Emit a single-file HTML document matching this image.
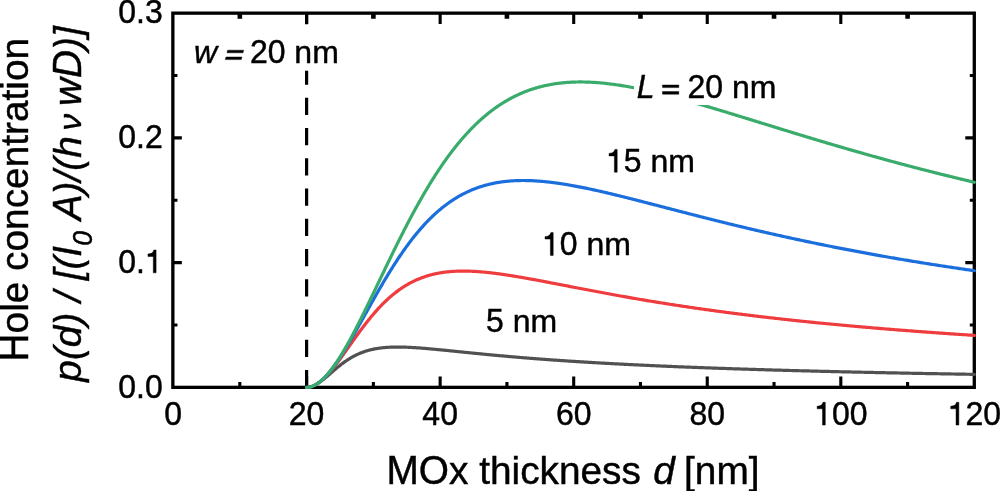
<!DOCTYPE html>
<html><head><meta charset="utf-8"><style>
html,body{margin:0;padding:0;background:#fff;}
body{width:1000px;height:491px;overflow:hidden;}
svg{display:block;will-change:transform;font-family:"Liberation Sans",sans-serif;font-kerning:none;}
</style></head><body>
<svg width="1000" height="491" viewBox="0 0 1000 491">
<rect width="1000" height="491" fill="#fff"/>
<g fill="none" stroke="#000" stroke-width="3.3">
<rect x="172.85" y="13.15" width="801.45" height="374.20"/>
<path d="M239.83,387.35V382.05 M306.60,387.35V376.45 M306.60,13.15V24.05 M373.38,387.35V382.05 M440.15,387.35V376.45 M440.15,13.15V24.05 M506.93,387.35V382.05 M573.70,387.35V376.45 M573.70,13.15V24.05 M640.48,387.35V382.05 M707.25,387.35V376.45 M707.25,13.15V24.05 M774.03,387.35V382.05 M840.80,387.35V376.45 M840.80,13.15V24.05 M907.58,387.35V382.05 M172.85,324.98H177.45 M974.30,324.98H969.80 M172.85,262.62H181.85 M974.30,262.62H965.30 M172.85,200.25H177.45 M974.30,200.25H969.80 M172.85,137.88H181.85 M974.30,137.88H965.30 M172.85,75.52H177.45 M974.30,75.52H969.80" stroke-width="3.1"/>
<path d="M239.83,13.15V18.85 M373.38,13.15V18.85 M506.93,13.15V18.85 M640.48,13.15V18.85 M774.03,13.15V18.85 M907.58,13.15V18.85" stroke-width="4.6"/>
<path d="M306.60,387.35V13.15" stroke-width="3.2" stroke-dasharray="17.25 13.0"/>
</g>
<g fill="none" stroke-width="3.2" stroke-linejoin="round" stroke-linecap="round">
<path d="M306.60,387.35 L307.27,387.33 L307.94,387.29 L308.60,387.21 L309.27,387.11 L309.94,386.97 L310.61,386.81 L311.27,386.62 L311.94,386.40 L312.61,386.16 L313.28,385.89 L313.95,385.60 L314.61,385.28 L315.28,384.94 L315.95,384.58 L316.62,384.20 L317.28,383.81 L317.95,383.39 L318.62,382.95 L319.29,382.50 L319.96,382.04 L320.62,381.55 L321.29,381.06 L321.96,380.55 L322.63,380.04 L323.29,379.51 L323.96,378.97 L324.63,378.42 L325.30,377.87 L325.96,377.31 L326.63,376.74 L327.30,376.17 L327.97,375.60 L328.64,375.02 L329.30,374.44 L329.97,373.86 L330.64,373.28 L331.31,372.70 L331.97,372.12 L332.64,371.54 L333.31,370.96 L333.98,370.38 L334.65,369.81 L335.31,369.24 L335.98,368.68 L336.65,368.12 L337.32,367.56 L337.98,367.01 L338.65,366.47 L339.32,365.93 L339.99,365.40 L340.66,364.88 L341.32,364.36 L341.99,363.85 L342.66,363.35 L343.33,362.85 L343.99,362.37 L344.66,361.89 L345.33,361.42 L346.00,360.95 L346.66,360.50 L347.33,360.06 L348.00,359.62 L348.67,359.19 L349.34,358.78 L350.00,358.37 L350.67,357.97 L351.34,357.57 L352.01,357.19 L352.67,356.82 L353.34,356.45 L354.01,356.09 L354.68,355.75 L355.35,355.41 L356.01,355.08 L356.68,354.75 L357.35,354.44 L358.02,354.14 L358.68,353.84 L359.35,353.55 L360.02,353.27 L360.69,353.00 L361.36,352.73 L362.02,352.48 L362.69,352.23 L363.36,351.99 L364.03,351.75 L364.69,351.52 L365.36,351.30 L366.03,351.09 L366.70,350.89 L367.37,350.69 L368.03,350.50 L368.70,350.31 L369.37,350.13 L370.04,349.96 L370.70,349.80 L371.37,349.64 L372.04,349.48 L372.71,349.33 L373.38,349.19 L374.04,349.06 L374.71,348.92 L375.38,348.80 L376.05,348.68 L376.71,348.56 L377.38,348.46 L378.05,348.35 L378.72,348.25 L379.38,348.16 L380.05,348.06 L380.72,347.98 L381.39,347.90 L382.06,347.82 L382.72,347.75 L383.39,347.68 L384.06,347.61 L384.73,347.55 L385.39,347.50 L386.06,347.44 L386.73,347.39 L387.40,347.35 L388.07,347.31 L388.73,347.27 L389.40,347.23 L390.07,347.20 L390.74,347.17 L391.40,347.14 L392.07,347.12 L392.74,347.10 L393.41,347.08 L394.08,347.07 L394.74,347.06 L395.41,347.05 L396.08,347.04 L396.75,347.04 L397.41,347.03 L398.08,347.03 L398.75,347.04 L399.42,347.04 L400.08,347.05 L400.75,347.06 L401.42,347.07 L402.09,347.08 L402.76,347.10 L403.42,347.12 L404.09,347.13 L404.76,347.15 L405.43,347.18 L406.09,347.20 L406.76,347.23 L407.43,347.25 L408.10,347.28 L408.77,347.31 L409.43,347.35 L410.10,347.38 L410.77,347.41 L411.44,347.45 L412.10,347.49 L412.77,347.53 L413.44,347.56 L414.11,347.61 L414.78,347.65 L415.44,347.69 L416.11,347.73 L416.78,347.78 L417.45,347.83 L418.11,347.87 L418.78,347.92 L419.45,347.97 L420.12,348.02 L420.79,348.07 L421.45,348.12 L422.12,348.17 L422.79,348.23 L423.46,348.28 L424.12,348.34 L424.79,348.39 L425.46,348.45 L426.13,348.50 L426.79,348.56 L427.46,348.62 L428.13,348.68 L428.80,348.73 L429.47,348.79 L430.13,348.85 L430.80,348.91 L431.47,348.97 L432.14,349.04 L432.80,349.10 L433.47,349.16 L434.14,349.22 L434.81,349.28 L435.48,349.35 L436.14,349.41 L436.81,349.47 L437.48,349.54 L438.15,349.60 L438.81,349.67 L439.48,349.73 L440.15,349.80 L440.82,349.86 L441.49,349.93 L442.15,350.00 L442.82,350.06 L443.49,350.13 L444.16,350.19 L444.82,350.26 L445.49,350.33 L446.16,350.39 L446.83,350.46 L447.50,350.53 L448.16,350.60 L448.83,350.66 L449.50,350.73 L450.17,350.80 L450.83,350.87 L451.50,350.93 L452.17,351.00 L452.84,351.07 L453.50,351.14 L454.17,351.21 L454.84,351.27 L455.51,351.34 L456.18,351.41 L456.84,351.48 L457.51,351.55 L458.18,351.61 L458.85,351.68 L459.51,351.75 L460.18,351.82 L460.85,351.89 L461.52,351.96 L462.19,352.02 L462.85,352.09 L463.52,352.16 L464.19,352.23 L464.86,352.29 L465.52,352.36 L466.19,352.43 L466.86,352.50 L467.53,352.57 L468.20,352.63 L468.86,352.70 L469.53,352.77 L470.20,352.83 L470.87,352.90 L471.53,352.97 L472.20,353.04 L472.87,353.10 L473.54,353.17 L474.21,353.24 L474.87,353.30 L475.54,353.37 L476.21,353.43 L476.88,353.50 L477.54,353.57 L478.21,353.63 L478.88,353.70 L479.55,353.76 L480.21,353.83 L480.88,353.89 L481.55,353.96 L482.22,354.02 L482.89,354.09 L483.55,354.15 L484.22,354.22 L484.89,354.28 L485.56,354.35 L486.22,354.41 L486.89,354.48 L487.56,354.54 L488.23,354.60 L488.90,354.67 L489.56,354.73 L490.23,354.79 L490.90,354.86 L491.57,354.92 L492.23,354.98 L492.90,355.05 L493.57,355.11 L494.24,355.17 L494.91,355.23 L495.57,355.29 L496.24,355.36 L496.91,355.42 L497.58,355.48 L498.24,355.54 L498.91,355.60 L499.58,355.66 L500.25,355.72 L500.92,355.78 L501.58,355.84 L502.25,355.90 L502.92,355.96 L503.59,356.02 L504.25,356.08 L504.92,356.14 L505.59,356.20 L506.26,356.26 L506.93,356.32 L507.59,356.38 L508.26,356.44 L508.93,356.50 L509.60,356.56 L510.26,356.61 L510.93,356.67 L511.60,356.73 L512.27,356.79 L512.93,356.84 L513.60,356.90 L514.27,356.96 L514.94,357.02 L515.61,357.07 L516.27,357.13 L516.94,357.19 L517.61,357.24 L518.28,357.30 L518.94,357.35 L519.61,357.41 L520.28,357.47 L520.95,357.52 L521.62,357.58 L522.28,357.63 L522.95,357.69 L523.62,357.74 L524.29,357.80 L524.95,357.85 L525.62,357.90 L526.29,357.96 L526.96,358.01 L527.63,358.07 L528.29,358.12 L528.96,358.17 L529.63,358.23 L530.30,358.28 L530.96,358.33 L531.63,358.38 L532.30,358.44 L532.97,358.49 L533.63,358.54 L534.30,358.59 L534.97,358.64 L535.64,358.70 L536.31,358.75 L536.97,358.80 L537.64,358.85 L538.31,358.90 L538.98,358.95 L539.64,359.00 L540.31,359.05 L540.98,359.10 L541.65,359.15 L542.32,359.20 L542.98,359.25 L543.65,359.30 L544.32,359.35 L544.99,359.40 L545.65,359.45 L546.32,359.50 L546.99,359.55 L547.66,359.60 L548.33,359.65 L548.99,359.70 L549.66,359.74 L550.33,359.79 L551.00,359.84 L551.66,359.89 L552.33,359.93 L553.00,359.98 L553.67,360.03 L554.34,360.08 L555.00,360.12 L555.67,360.17 L556.34,360.22 L557.01,360.26 L557.67,360.31 L558.34,360.36 L559.01,360.40 L559.68,360.45 L560.35,360.49 L561.01,360.54 L561.68,360.59 L562.35,360.63 L563.02,360.68 L563.68,360.72 L564.35,360.77 L565.02,360.81 L565.69,360.86 L566.35,360.90 L567.02,360.95 L567.69,360.99 L568.36,361.03 L569.03,361.08 L569.69,361.12 L570.36,361.16 L571.03,361.21 L571.70,361.25 L572.36,361.30 L573.03,361.34 L573.70,361.38 L575.04,361.47 L576.37,361.55 L577.71,361.64 L579.04,361.72 L580.38,361.80 L581.71,361.89 L583.05,361.97 L584.38,362.05 L585.72,362.13 L587.06,362.21 L588.39,362.29 L589.73,362.37 L591.06,362.45 L592.40,362.53 L593.73,362.61 L595.07,362.69 L596.40,362.77 L597.74,362.84 L599.07,362.92 L600.41,363.00 L601.75,363.07 L603.08,363.15 L604.42,363.22 L605.75,363.29 L607.09,363.37 L608.42,363.44 L609.76,363.51 L611.09,363.59 L612.43,363.66 L613.76,363.73 L615.10,363.80 L616.44,363.87 L617.77,363.94 L619.11,364.01 L620.44,364.08 L621.78,364.15 L623.11,364.22 L624.45,364.29 L625.78,364.36 L627.12,364.42 L628.46,364.49 L629.79,364.56 L631.13,364.62 L632.46,364.69 L633.80,364.76 L635.13,364.82 L636.47,364.89 L637.80,364.95 L639.14,365.01 L640.48,365.08 L641.81,365.14 L643.15,365.20 L644.48,365.27 L645.82,365.33 L647.15,365.39 L648.49,365.45 L649.82,365.51 L651.16,365.58 L652.49,365.64 L653.83,365.70 L655.17,365.76 L656.50,365.82 L657.84,365.88 L659.17,365.93 L660.51,365.99 L661.84,366.05 L663.18,366.11 L664.51,366.17 L665.85,366.22 L667.18,366.28 L668.52,366.34 L669.86,366.39 L671.19,366.45 L672.53,366.51 L673.86,366.56 L675.20,366.62 L676.53,366.67 L677.87,366.73 L679.20,366.78 L680.54,366.84 L681.88,366.89 L683.21,366.94 L684.55,367.00 L685.88,367.05 L687.22,367.10 L688.55,367.15 L689.89,367.21 L691.22,367.26 L692.56,367.31 L693.89,367.36 L695.23,367.41 L696.57,367.46 L697.90,367.51 L699.24,367.56 L700.57,367.61 L701.91,367.66 L703.24,367.71 L704.58,367.76 L705.91,367.81 L707.25,367.86 L708.59,367.91 L709.92,367.96 L711.26,368.01 L712.59,368.05 L713.93,368.10 L715.26,368.15 L716.60,368.20 L717.93,368.24 L719.27,368.29 L720.61,368.34 L721.94,368.38 L723.28,368.43 L724.61,368.47 L725.95,368.52 L727.28,368.56 L728.62,368.61 L729.95,368.66 L731.29,368.70 L732.62,368.74 L733.96,368.79 L735.30,368.83 L736.63,368.88 L737.97,368.92 L739.30,368.96 L740.64,369.01 L741.97,369.05 L743.31,369.09 L744.64,369.14 L745.98,369.18 L747.32,369.22 L748.65,369.26 L749.99,369.30 L751.32,369.35 L752.66,369.39 L753.99,369.43 L755.33,369.47 L756.66,369.51 L758.00,369.55 L759.33,369.59 L760.67,369.63 L762.01,369.67 L763.34,369.71 L764.68,369.75 L766.01,369.79 L767.35,369.83 L768.68,369.87 L770.02,369.91 L771.35,369.95 L772.69,369.99 L774.03,370.03 L775.36,370.06 L776.70,370.10 L778.03,370.14 L779.37,370.18 L780.70,370.22 L782.04,370.25 L783.37,370.29 L784.71,370.33 L786.04,370.37 L787.38,370.40 L788.72,370.44 L790.05,370.48 L791.39,370.51 L792.72,370.55 L794.06,370.58 L795.39,370.62 L796.73,370.66 L798.06,370.69 L799.40,370.73 L800.73,370.76 L802.07,370.80 L803.41,370.83 L804.74,370.87 L806.08,370.90 L807.41,370.94 L808.75,370.97 L810.08,371.01 L811.42,371.04 L812.75,371.07 L814.09,371.11 L815.43,371.14 L816.76,371.18 L818.10,371.21 L819.43,371.24 L820.77,371.28 L822.10,371.31 L823.44,371.34 L824.77,371.37 L826.11,371.41 L827.44,371.44 L828.78,371.47 L830.12,371.50 L831.45,371.54 L832.79,371.57 L834.12,371.60 L835.46,371.63 L836.79,371.66 L838.13,371.70 L839.46,371.73 L840.80,371.76 L842.14,371.79 L843.47,371.82 L844.81,371.85 L846.14,371.88 L847.48,371.91 L848.81,371.94 L850.15,371.97 L851.48,372.00 L852.82,372.03 L854.15,372.06 L855.49,372.09 L856.83,372.12 L858.16,372.15 L859.50,372.18 L860.83,372.21 L862.17,372.24 L863.50,372.27 L864.84,372.30 L866.17,372.33 L867.51,372.36 L868.85,372.39 L870.18,372.42 L871.52,372.44 L872.85,372.47 L874.19,372.50 L875.52,372.53 L876.86,372.56 L878.19,372.59 L879.53,372.61 L880.87,372.64 L882.20,372.67 L883.54,372.70 L884.87,372.72 L886.21,372.75 L887.54,372.78 L888.88,372.81 L890.21,372.83 L891.55,372.86 L892.88,372.89 L894.22,372.91 L895.56,372.94 L896.89,372.97 L898.23,372.99 L899.56,373.02 L900.90,373.05 L902.23,373.07 L903.57,373.10 L904.90,373.12 L906.24,373.15 L907.58,373.18 L908.91,373.20 L910.25,373.23 L911.58,373.25 L912.92,373.28 L914.25,373.30 L915.59,373.33 L916.92,373.35 L918.26,373.38 L919.59,373.40 L920.93,373.43 L922.27,373.45 L923.60,373.48 L924.94,373.50 L926.27,373.53 L927.61,373.55 L928.94,373.58 L930.28,373.60 L931.61,373.62 L932.95,373.65 L934.29,373.67 L935.62,373.70 L936.96,373.72 L938.29,373.74 L939.63,373.77 L940.96,373.79 L942.30,373.82 L943.63,373.84 L944.97,373.86 L946.30,373.89 L947.64,373.91 L948.98,373.93 L950.31,373.96 L951.65,373.98 L952.98,374.00 L954.32,374.02 L955.65,374.05 L956.99,374.07 L958.32,374.09 L959.66,374.11 L960.99,374.14 L962.33,374.16 L963.67,374.18 L965.00,374.20 L966.34,374.23 L967.67,374.25 L969.01,374.27 L970.34,374.29 L971.68,374.31 L973.01,374.34 L974.35,374.36" stroke="#515151"/>
<path d="M306.60,387.35 L307.27,387.33 L307.94,387.29 L308.60,387.21 L309.27,387.11 L309.94,386.97 L310.61,386.81 L311.27,386.61 L311.94,386.39 L312.61,386.15 L313.28,385.87 L313.95,385.57 L314.61,385.24 L315.28,384.89 L315.95,384.52 L316.62,384.12 L317.28,383.69 L317.95,383.25 L318.62,382.78 L319.29,382.29 L319.96,381.77 L320.62,381.24 L321.29,380.69 L321.96,380.11 L322.63,379.52 L323.29,378.91 L323.96,378.28 L324.63,377.63 L325.30,376.97 L325.96,376.29 L326.63,375.59 L327.30,374.88 L327.97,374.15 L328.64,373.41 L329.30,372.65 L329.97,371.89 L330.64,371.10 L331.31,370.31 L331.97,369.51 L332.64,368.69 L333.31,367.86 L333.98,367.03 L334.65,366.18 L335.31,365.32 L335.98,364.46 L336.65,363.59 L337.32,362.70 L337.98,361.82 L338.65,360.92 L339.32,360.02 L339.99,359.12 L340.66,358.20 L341.32,357.29 L341.99,356.36 L342.66,355.44 L343.33,354.51 L343.99,353.58 L344.66,352.64 L345.33,351.70 L346.00,350.76 L346.66,349.82 L347.33,348.88 L348.00,347.94 L348.67,346.99 L349.34,346.05 L350.00,345.10 L350.67,344.16 L351.34,343.21 L352.01,342.27 L352.67,341.33 L353.34,340.39 L354.01,339.45 L354.68,338.52 L355.35,337.59 L356.01,336.66 L356.68,335.73 L357.35,334.81 L358.02,333.89 L358.68,332.97 L359.35,332.06 L360.02,331.15 L360.69,330.25 L361.36,329.35 L362.02,328.46 L362.69,327.57 L363.36,326.69 L364.03,325.81 L364.69,324.94 L365.36,324.07 L366.03,323.21 L366.70,322.36 L367.37,321.51 L368.03,320.67 L368.70,319.83 L369.37,319.01 L370.04,318.19 L370.70,317.37 L371.37,316.56 L372.04,315.76 L372.71,314.97 L373.38,314.18 L374.04,313.41 L374.71,312.63 L375.38,311.87 L376.05,311.12 L376.71,310.37 L377.38,309.63 L378.05,308.89 L378.72,308.17 L379.38,307.45 L380.05,306.74 L380.72,306.04 L381.39,305.35 L382.06,304.66 L382.72,303.99 L383.39,303.32 L384.06,302.66 L384.73,302.00 L385.39,301.36 L386.06,300.72 L386.73,300.09 L387.40,299.47 L388.07,298.86 L388.73,298.25 L389.40,297.66 L390.07,297.07 L390.74,296.49 L391.40,295.92 L392.07,295.35 L392.74,294.80 L393.41,294.25 L394.08,293.71 L394.74,293.18 L395.41,292.65 L396.08,292.14 L396.75,291.63 L397.41,291.13 L398.08,290.63 L398.75,290.15 L399.42,289.67 L400.08,289.20 L400.75,288.74 L401.42,288.28 L402.09,287.83 L402.76,287.39 L403.42,286.96 L404.09,286.54 L404.76,286.12 L405.43,285.71 L406.09,285.30 L406.76,284.91 L407.43,284.52 L408.10,284.14 L408.77,283.76 L409.43,283.39 L410.10,283.03 L410.77,282.68 L411.44,282.33 L412.10,281.99 L412.77,281.65 L413.44,281.32 L414.11,281.00 L414.78,280.69 L415.44,280.38 L416.11,280.07 L416.78,279.78 L417.45,279.49 L418.11,279.20 L418.78,278.93 L419.45,278.65 L420.12,278.39 L420.79,278.13 L421.45,277.87 L422.12,277.63 L422.79,277.38 L423.46,277.15 L424.12,276.91 L424.79,276.69 L425.46,276.47 L426.13,276.25 L426.79,276.04 L427.46,275.84 L428.13,275.64 L428.80,275.44 L429.47,275.26 L430.13,275.07 L430.80,274.89 L431.47,274.72 L432.14,274.55 L432.80,274.38 L433.47,274.23 L434.14,274.07 L434.81,273.92 L435.48,273.77 L436.14,273.63 L436.81,273.50 L437.48,273.36 L438.15,273.24 L438.81,273.11 L439.48,272.99 L440.15,272.88 L440.82,272.77 L441.49,272.66 L442.15,272.55 L442.82,272.46 L443.49,272.36 L444.16,272.27 L444.82,272.18 L445.49,272.10 L446.16,272.02 L446.83,271.94 L447.50,271.87 L448.16,271.80 L448.83,271.73 L449.50,271.67 L450.17,271.61 L450.83,271.56 L451.50,271.50 L452.17,271.45 L452.84,271.41 L453.50,271.37 L454.17,271.33 L454.84,271.29 L455.51,271.26 L456.18,271.23 L456.84,271.20 L457.51,271.17 L458.18,271.15 L458.85,271.13 L459.51,271.12 L460.18,271.10 L460.85,271.09 L461.52,271.09 L462.19,271.08 L462.85,271.08 L463.52,271.08 L464.19,271.08 L464.86,271.09 L465.52,271.09 L466.19,271.10 L466.86,271.11 L467.53,271.13 L468.20,271.15 L468.86,271.16 L469.53,271.19 L470.20,271.21 L470.87,271.23 L471.53,271.26 L472.20,271.29 L472.87,271.32 L473.54,271.36 L474.21,271.39 L474.87,271.43 L475.54,271.47 L476.21,271.51 L476.88,271.56 L477.54,271.60 L478.21,271.65 L478.88,271.70 L479.55,271.75 L480.21,271.80 L480.88,271.85 L481.55,271.91 L482.22,271.97 L482.89,272.03 L483.55,272.09 L484.22,272.15 L484.89,272.21 L485.56,272.28 L486.22,272.34 L486.89,272.41 L487.56,272.48 L488.23,272.55 L488.90,272.62 L489.56,272.70 L490.23,272.77 L490.90,272.85 L491.57,272.92 L492.23,273.00 L492.90,273.08 L493.57,273.16 L494.24,273.25 L494.91,273.33 L495.57,273.41 L496.24,273.50 L496.91,273.59 L497.58,273.67 L498.24,273.76 L498.91,273.85 L499.58,273.94 L500.25,274.04 L500.92,274.13 L501.58,274.22 L502.25,274.32 L502.92,274.41 L503.59,274.51 L504.25,274.61 L504.92,274.71 L505.59,274.80 L506.26,274.91 L506.93,275.01 L507.59,275.11 L508.26,275.21 L508.93,275.31 L509.60,275.42 L510.26,275.52 L510.93,275.63 L511.60,275.73 L512.27,275.84 L512.93,275.95 L513.60,276.06 L514.27,276.17 L514.94,276.28 L515.61,276.39 L516.27,276.50 L516.94,276.61 L517.61,276.72 L518.28,276.83 L518.94,276.95 L519.61,277.06 L520.28,277.18 L520.95,277.29 L521.62,277.41 L522.28,277.52 L522.95,277.64 L523.62,277.75 L524.29,277.87 L524.95,277.99 L525.62,278.11 L526.29,278.23 L526.96,278.35 L527.63,278.46 L528.29,278.58 L528.96,278.70 L529.63,278.83 L530.30,278.95 L530.96,279.07 L531.63,279.19 L532.30,279.31 L532.97,279.43 L533.63,279.56 L534.30,279.68 L534.97,279.80 L535.64,279.93 L536.31,280.05 L536.97,280.17 L537.64,280.30 L538.31,280.42 L538.98,280.55 L539.64,280.67 L540.31,280.80 L540.98,280.92 L541.65,281.05 L542.32,281.18 L542.98,281.30 L543.65,281.43 L544.32,281.55 L544.99,281.68 L545.65,281.81 L546.32,281.94 L546.99,282.06 L547.66,282.19 L548.33,282.32 L548.99,282.44 L549.66,282.57 L550.33,282.70 L551.00,282.83 L551.66,282.96 L552.33,283.08 L553.00,283.21 L553.67,283.34 L554.34,283.47 L555.00,283.60 L555.67,283.73 L556.34,283.86 L557.01,283.99 L557.67,284.11 L558.34,284.24 L559.01,284.37 L559.68,284.50 L560.35,284.63 L561.01,284.76 L561.68,284.89 L562.35,285.02 L563.02,285.15 L563.68,285.28 L564.35,285.40 L565.02,285.53 L565.69,285.66 L566.35,285.79 L567.02,285.92 L567.69,286.05 L568.36,286.18 L569.03,286.31 L569.69,286.44 L570.36,286.57 L571.03,286.70 L571.70,286.83 L572.36,286.95 L573.03,287.08 L573.70,287.21 L575.04,287.47 L576.37,287.73 L577.71,287.98 L579.04,288.24 L580.38,288.50 L581.71,288.75 L583.05,289.01 L584.38,289.27 L585.72,289.52 L587.06,289.77 L588.39,290.03 L589.73,290.28 L591.06,290.54 L592.40,290.79 L593.73,291.04 L595.07,291.29 L596.40,291.54 L597.74,291.79 L599.07,292.05 L600.41,292.29 L601.75,292.54 L603.08,292.79 L604.42,293.04 L605.75,293.29 L607.09,293.53 L608.42,293.78 L609.76,294.02 L611.09,294.27 L612.43,294.51 L613.76,294.75 L615.10,295.00 L616.44,295.24 L617.77,295.48 L619.11,295.72 L620.44,295.96 L621.78,296.20 L623.11,296.43 L624.45,296.67 L625.78,296.91 L627.12,297.14 L628.46,297.38 L629.79,297.61 L631.13,297.85 L632.46,298.08 L633.80,298.31 L635.13,298.54 L636.47,298.77 L637.80,299.00 L639.14,299.23 L640.48,299.46 L641.81,299.68 L643.15,299.91 L644.48,300.13 L645.82,300.36 L647.15,300.58 L648.49,300.80 L649.82,301.03 L651.16,301.25 L652.49,301.47 L653.83,301.69 L655.17,301.90 L656.50,302.12 L657.84,302.34 L659.17,302.55 L660.51,302.77 L661.84,302.98 L663.18,303.20 L664.51,303.41 L665.85,303.62 L667.18,303.83 L668.52,304.04 L669.86,304.25 L671.19,304.46 L672.53,304.67 L673.86,304.87 L675.20,305.08 L676.53,305.29 L677.87,305.49 L679.20,305.69 L680.54,305.90 L681.88,306.10 L683.21,306.30 L684.55,306.50 L685.88,306.70 L687.22,306.90 L688.55,307.09 L689.89,307.29 L691.22,307.49 L692.56,307.68 L693.89,307.88 L695.23,308.07 L696.57,308.26 L697.90,308.46 L699.24,308.65 L700.57,308.84 L701.91,309.03 L703.24,309.22 L704.58,309.40 L705.91,309.59 L707.25,309.78 L708.59,309.96 L709.92,310.15 L711.26,310.33 L712.59,310.52 L713.93,310.70 L715.26,310.88 L716.60,311.06 L717.93,311.24 L719.27,311.42 L720.61,311.60 L721.94,311.78 L723.28,311.96 L724.61,312.13 L725.95,312.31 L727.28,312.49 L728.62,312.66 L729.95,312.83 L731.29,313.01 L732.62,313.18 L733.96,313.35 L735.30,313.52 L736.63,313.69 L737.97,313.86 L739.30,314.03 L740.64,314.20 L741.97,314.37 L743.31,314.53 L744.64,314.70 L745.98,314.86 L747.32,315.03 L748.65,315.19 L749.99,315.36 L751.32,315.52 L752.66,315.68 L753.99,315.84 L755.33,316.00 L756.66,316.16 L758.00,316.32 L759.33,316.48 L760.67,316.64 L762.01,316.79 L763.34,316.95 L764.68,317.11 L766.01,317.26 L767.35,317.42 L768.68,317.57 L770.02,317.72 L771.35,317.88 L772.69,318.03 L774.03,318.18 L775.36,318.33 L776.70,318.48 L778.03,318.63 L779.37,318.78 L780.70,318.93 L782.04,319.08 L783.37,319.22 L784.71,319.37 L786.04,319.52 L787.38,319.66 L788.72,319.81 L790.05,319.95 L791.39,320.09 L792.72,320.24 L794.06,320.38 L795.39,320.52 L796.73,320.66 L798.06,320.80 L799.40,320.94 L800.73,321.08 L802.07,321.22 L803.41,321.36 L804.74,321.50 L806.08,321.64 L807.41,321.77 L808.75,321.91 L810.08,322.05 L811.42,322.18 L812.75,322.32 L814.09,322.45 L815.43,322.58 L816.76,322.72 L818.10,322.85 L819.43,322.98 L820.77,323.11 L822.10,323.24 L823.44,323.37 L824.77,323.50 L826.11,323.63 L827.44,323.76 L828.78,323.89 L830.12,324.02 L831.45,324.15 L832.79,324.27 L834.12,324.40 L835.46,324.53 L836.79,324.65 L838.13,324.78 L839.46,324.90 L840.80,325.03 L842.14,325.15 L843.47,325.27 L844.81,325.39 L846.14,325.52 L847.48,325.64 L848.81,325.76 L850.15,325.88 L851.48,326.00 L852.82,326.12 L854.15,326.24 L855.49,326.36 L856.83,326.48 L858.16,326.60 L859.50,326.71 L860.83,326.83 L862.17,326.95 L863.50,327.06 L864.84,327.18 L866.17,327.29 L867.51,327.41 L868.85,327.52 L870.18,327.64 L871.52,327.75 L872.85,327.86 L874.19,327.98 L875.52,328.09 L876.86,328.20 L878.19,328.31 L879.53,328.42 L880.87,328.54 L882.20,328.65 L883.54,328.76 L884.87,328.86 L886.21,328.97 L887.54,329.08 L888.88,329.19 L890.21,329.30 L891.55,329.41 L892.88,329.51 L894.22,329.62 L895.56,329.73 L896.89,329.83 L898.23,329.94 L899.56,330.04 L900.90,330.15 L902.23,330.25 L903.57,330.36 L904.90,330.46 L906.24,330.56 L907.58,330.67 L908.91,330.77 L910.25,330.87 L911.58,330.97 L912.92,331.08 L914.25,331.18 L915.59,331.28 L916.92,331.38 L918.26,331.48 L919.59,331.58 L920.93,331.68 L922.27,331.78 L923.60,331.87 L924.94,331.97 L926.27,332.07 L927.61,332.17 L928.94,332.27 L930.28,332.36 L931.61,332.46 L932.95,332.56 L934.29,332.65 L935.62,332.75 L936.96,332.84 L938.29,332.94 L939.63,333.03 L940.96,333.13 L942.30,333.22 L943.63,333.31 L944.97,333.41 L946.30,333.50 L947.64,333.59 L948.98,333.69 L950.31,333.78 L951.65,333.87 L952.98,333.96 L954.32,334.05 L955.65,334.14 L956.99,334.23 L958.32,334.32 L959.66,334.41 L960.99,334.50 L962.33,334.59 L963.67,334.68 L965.00,334.77 L966.34,334.86 L967.67,334.95 L969.01,335.03 L970.34,335.12 L971.68,335.21 L973.01,335.30 L974.35,335.38" stroke="#ef3c3f"/>
<path d="M306.60,387.35 L307.27,387.33 L307.94,387.29 L308.60,387.21 L309.27,387.11 L309.94,386.97 L310.61,386.81 L311.27,386.61 L311.94,386.39 L312.61,386.14 L313.28,385.87 L313.95,385.57 L314.61,385.24 L315.28,384.88 L315.95,384.50 L316.62,384.10 L317.28,383.67 L317.95,383.22 L318.62,382.74 L319.29,382.24 L319.96,381.72 L320.62,381.18 L321.29,380.61 L321.96,380.02 L322.63,379.42 L323.29,378.79 L323.96,378.14 L324.63,377.47 L325.30,376.78 L325.96,376.07 L326.63,375.35 L327.30,374.60 L327.97,373.84 L328.64,373.06 L329.30,372.27 L329.97,371.46 L330.64,370.63 L331.31,369.78 L331.97,368.92 L332.64,368.05 L333.31,367.16 L333.98,366.26 L334.65,365.34 L335.31,364.41 L335.98,363.46 L336.65,362.51 L337.32,361.54 L337.98,360.56 L338.65,359.57 L339.32,358.56 L339.99,357.55 L340.66,356.52 L341.32,355.49 L341.99,354.44 L342.66,353.39 L343.33,352.32 L343.99,351.25 L344.66,350.17 L345.33,349.08 L346.00,347.98 L346.66,346.88 L347.33,345.76 L348.00,344.64 L348.67,343.52 L349.34,342.39 L350.00,341.25 L350.67,340.10 L351.34,338.95 L352.01,337.80 L352.67,336.64 L353.34,335.48 L354.01,334.31 L354.68,333.13 L355.35,331.96 L356.01,330.78 L356.68,329.60 L357.35,328.41 L358.02,327.22 L358.68,326.03 L359.35,324.84 L360.02,323.65 L360.69,322.45 L361.36,321.25 L362.02,320.05 L362.69,318.85 L363.36,317.65 L364.03,316.45 L364.69,315.25 L365.36,314.05 L366.03,312.85 L366.70,311.65 L367.37,310.45 L368.03,309.25 L368.70,308.05 L369.37,306.85 L370.04,305.66 L370.70,304.46 L371.37,303.27 L372.04,302.08 L372.71,300.89 L373.38,299.71 L374.04,298.52 L374.71,297.34 L375.38,296.16 L376.05,294.99 L376.71,293.82 L377.38,292.65 L378.05,291.48 L378.72,290.32 L379.38,289.16 L380.05,288.01 L380.72,286.86 L381.39,285.72 L382.06,284.57 L382.72,283.44 L383.39,282.30 L384.06,281.18 L384.73,280.05 L385.39,278.93 L386.06,277.82 L386.73,276.71 L387.40,275.61 L388.07,274.51 L388.73,273.42 L389.40,272.33 L390.07,271.25 L390.74,270.17 L391.40,269.11 L392.07,268.04 L392.74,266.98 L393.41,265.93 L394.08,264.88 L394.74,263.84 L395.41,262.81 L396.08,261.78 L396.75,260.76 L397.41,259.75 L398.08,258.74 L398.75,257.74 L399.42,256.74 L400.08,255.75 L400.75,254.77 L401.42,253.80 L402.09,252.83 L402.76,251.87 L403.42,250.91 L404.09,249.97 L404.76,249.02 L405.43,248.09 L406.09,247.16 L406.76,246.24 L407.43,245.33 L408.10,244.43 L408.77,243.53 L409.43,242.64 L410.10,241.75 L410.77,240.88 L411.44,240.01 L412.10,239.15 L412.77,238.29 L413.44,237.44 L414.11,236.60 L414.78,235.77 L415.44,234.94 L416.11,234.12 L416.78,233.31 L417.45,232.51 L418.11,231.71 L418.78,230.92 L419.45,230.14 L420.12,229.37 L420.79,228.60 L421.45,227.84 L422.12,227.09 L422.79,226.34 L423.46,225.60 L424.12,224.87 L424.79,224.15 L425.46,223.43 L426.13,222.72 L426.79,222.02 L427.46,221.33 L428.13,220.64 L428.80,219.96 L429.47,219.28 L430.13,218.62 L430.80,217.96 L431.47,217.31 L432.14,216.66 L432.80,216.02 L433.47,215.39 L434.14,214.77 L434.81,214.15 L435.48,213.54 L436.14,212.94 L436.81,212.34 L437.48,211.76 L438.15,211.17 L438.81,210.60 L439.48,210.03 L440.15,209.47 L440.82,208.91 L441.49,208.36 L442.15,207.82 L442.82,207.29 L443.49,206.76 L444.16,206.24 L444.82,205.72 L445.49,205.21 L446.16,204.71 L446.83,204.22 L447.50,203.73 L448.16,203.24 L448.83,202.77 L449.50,202.30 L450.17,201.83 L450.83,201.38 L451.50,200.92 L452.17,200.48 L452.84,200.04 L453.50,199.61 L454.17,199.18 L454.84,198.76 L455.51,198.34 L456.18,197.93 L456.84,197.53 L457.51,197.13 L458.18,196.74 L458.85,196.36 L459.51,195.98 L460.18,195.60 L460.85,195.23 L461.52,194.87 L462.19,194.51 L462.85,194.16 L463.52,193.81 L464.19,193.47 L464.86,193.14 L465.52,192.81 L466.19,192.48 L466.86,192.16 L467.53,191.85 L468.20,191.54 L468.86,191.24 L469.53,190.94 L470.20,190.65 L470.87,190.36 L471.53,190.07 L472.20,189.80 L472.87,189.52 L473.54,189.25 L474.21,188.99 L474.87,188.73 L475.54,188.48 L476.21,188.23 L476.88,187.99 L477.54,187.75 L478.21,187.51 L478.88,187.28 L479.55,187.06 L480.21,186.83 L480.88,186.62 L481.55,186.41 L482.22,186.20 L482.89,186.00 L483.55,185.80 L484.22,185.60 L484.89,185.41 L485.56,185.23 L486.22,185.04 L486.89,184.87 L487.56,184.69 L488.23,184.52 L488.90,184.36 L489.56,184.20 L490.23,184.04 L490.90,183.88 L491.57,183.74 L492.23,183.59 L492.90,183.45 L493.57,183.31 L494.24,183.18 L494.91,183.04 L495.57,182.92 L496.24,182.80 L496.91,182.68 L497.58,182.56 L498.24,182.45 L498.91,182.34 L499.58,182.23 L500.25,182.13 L500.92,182.03 L501.58,181.94 L502.25,181.85 L502.92,181.76 L503.59,181.67 L504.25,181.59 L504.92,181.51 L505.59,181.44 L506.26,181.37 L506.93,181.30 L507.59,181.23 L508.26,181.17 L508.93,181.11 L509.60,181.05 L510.26,181.00 L510.93,180.95 L511.60,180.90 L512.27,180.86 L512.93,180.81 L513.60,180.77 L514.27,180.74 L514.94,180.71 L515.61,180.67 L516.27,180.65 L516.94,180.62 L517.61,180.60 L518.28,180.58 L518.94,180.56 L519.61,180.55 L520.28,180.53 L520.95,180.52 L521.62,180.52 L522.28,180.51 L522.95,180.51 L523.62,180.51 L524.29,180.51 L524.95,180.52 L525.62,180.53 L526.29,180.54 L526.96,180.55 L527.63,180.56 L528.29,180.58 L528.96,180.60 L529.63,180.62 L530.30,180.64 L530.96,180.67 L531.63,180.69 L532.30,180.72 L532.97,180.76 L533.63,180.79 L534.30,180.82 L534.97,180.86 L535.64,180.90 L536.31,180.94 L536.97,180.99 L537.64,181.03 L538.31,181.08 L538.98,181.13 L539.64,181.18 L540.31,181.23 L540.98,181.29 L541.65,181.35 L542.32,181.41 L542.98,181.47 L543.65,181.53 L544.32,181.59 L544.99,181.66 L545.65,181.72 L546.32,181.79 L546.99,181.86 L547.66,181.93 L548.33,182.01 L548.99,182.08 L549.66,182.16 L550.33,182.24 L551.00,182.32 L551.66,182.40 L552.33,182.48 L553.00,182.57 L553.67,182.65 L554.34,182.74 L555.00,182.83 L555.67,182.92 L556.34,183.01 L557.01,183.10 L557.67,183.20 L558.34,183.29 L559.01,183.39 L559.68,183.49 L560.35,183.59 L561.01,183.69 L561.68,183.79 L562.35,183.89 L563.02,184.00 L563.68,184.10 L564.35,184.21 L565.02,184.32 L565.69,184.43 L566.35,184.54 L567.02,184.65 L567.69,184.76 L568.36,184.87 L569.03,184.99 L569.69,185.10 L570.36,185.22 L571.03,185.34 L571.70,185.46 L572.36,185.58 L573.03,185.70 L573.70,185.82 L575.04,186.07 L576.37,186.32 L577.71,186.57 L579.04,186.83 L580.38,187.09 L581.71,187.35 L583.05,187.62 L584.38,187.89 L585.72,188.17 L587.06,188.44 L588.39,188.72 L589.73,189.01 L591.06,189.29 L592.40,189.58 L593.73,189.87 L595.07,190.17 L596.40,190.46 L597.74,190.76 L599.07,191.06 L600.41,191.36 L601.75,191.67 L603.08,191.98 L604.42,192.28 L605.75,192.60 L607.09,192.91 L608.42,193.22 L609.76,193.54 L611.09,193.86 L612.43,194.18 L613.76,194.50 L615.10,194.82 L616.44,195.15 L617.77,195.47 L619.11,195.80 L620.44,196.13 L621.78,196.46 L623.11,196.79 L624.45,197.12 L625.78,197.45 L627.12,197.79 L628.46,198.12 L629.79,198.46 L631.13,198.79 L632.46,199.13 L633.80,199.47 L635.13,199.81 L636.47,200.15 L637.80,200.49 L639.14,200.83 L640.48,201.17 L641.81,201.51 L643.15,201.86 L644.48,202.20 L645.82,202.54 L647.15,202.89 L648.49,203.23 L649.82,203.58 L651.16,203.92 L652.49,204.27 L653.83,204.61 L655.17,204.96 L656.50,205.30 L657.84,205.65 L659.17,206.00 L660.51,206.34 L661.84,206.69 L663.18,207.04 L664.51,207.38 L665.85,207.73 L667.18,208.08 L668.52,208.42 L669.86,208.77 L671.19,209.12 L672.53,209.46 L673.86,209.81 L675.20,210.15 L676.53,210.50 L677.87,210.85 L679.20,211.19 L680.54,211.54 L681.88,211.88 L683.21,212.23 L684.55,212.57 L685.88,212.92 L687.22,213.26 L688.55,213.60 L689.89,213.95 L691.22,214.29 L692.56,214.63 L693.89,214.97 L695.23,215.31 L696.57,215.66 L697.90,216.00 L699.24,216.34 L700.57,216.68 L701.91,217.02 L703.24,217.35 L704.58,217.69 L705.91,218.03 L707.25,218.37 L708.59,218.70 L709.92,219.04 L711.26,219.38 L712.59,219.71 L713.93,220.04 L715.26,220.38 L716.60,220.71 L717.93,221.04 L719.27,221.38 L720.61,221.71 L721.94,222.04 L723.28,222.37 L724.61,222.70 L725.95,223.03 L727.28,223.35 L728.62,223.68 L729.95,224.01 L731.29,224.33 L732.62,224.66 L733.96,224.98 L735.30,225.31 L736.63,225.63 L737.97,225.95 L739.30,226.27 L740.64,226.59 L741.97,226.91 L743.31,227.23 L744.64,227.55 L745.98,227.87 L747.32,228.19 L748.65,228.50 L749.99,228.82 L751.32,229.13 L752.66,229.45 L753.99,229.76 L755.33,230.07 L756.66,230.39 L758.00,230.70 L759.33,231.01 L760.67,231.32 L762.01,231.62 L763.34,231.93 L764.68,232.24 L766.01,232.55 L767.35,232.85 L768.68,233.16 L770.02,233.46 L771.35,233.76 L772.69,234.06 L774.03,234.37 L775.36,234.67 L776.70,234.97 L778.03,235.26 L779.37,235.56 L780.70,235.86 L782.04,236.16 L783.37,236.45 L784.71,236.75 L786.04,237.04 L787.38,237.33 L788.72,237.63 L790.05,237.92 L791.39,238.21 L792.72,238.50 L794.06,238.79 L795.39,239.07 L796.73,239.36 L798.06,239.65 L799.40,239.93 L800.73,240.22 L802.07,240.50 L803.41,240.79 L804.74,241.07 L806.08,241.35 L807.41,241.63 L808.75,241.91 L810.08,242.19 L811.42,242.47 L812.75,242.74 L814.09,243.02 L815.43,243.30 L816.76,243.57 L818.10,243.85 L819.43,244.12 L820.77,244.39 L822.10,244.66 L823.44,244.93 L824.77,245.20 L826.11,245.47 L827.44,245.74 L828.78,246.01 L830.12,246.28 L831.45,246.54 L832.79,246.81 L834.12,247.07 L835.46,247.33 L836.79,247.60 L838.13,247.86 L839.46,248.12 L840.80,248.38 L842.14,248.64 L843.47,248.90 L844.81,249.16 L846.14,249.41 L847.48,249.67 L848.81,249.92 L850.15,250.18 L851.48,250.43 L852.82,250.69 L854.15,250.94 L855.49,251.19 L856.83,251.44 L858.16,251.69 L859.50,251.94 L860.83,252.19 L862.17,252.44 L863.50,252.68 L864.84,252.93 L866.17,253.18 L867.51,253.42 L868.85,253.66 L870.18,253.91 L871.52,254.15 L872.85,254.39 L874.19,254.63 L875.52,254.87 L876.86,255.11 L878.19,255.35 L879.53,255.59 L880.87,255.82 L882.20,256.06 L883.54,256.30 L884.87,256.53 L886.21,256.77 L887.54,257.00 L888.88,257.23 L890.21,257.46 L891.55,257.70 L892.88,257.93 L894.22,258.16 L895.56,258.38 L896.89,258.61 L898.23,258.84 L899.56,259.07 L900.90,259.29 L902.23,259.52 L903.57,259.74 L904.90,259.97 L906.24,260.19 L907.58,260.41 L908.91,260.64 L910.25,260.86 L911.58,261.08 L912.92,261.30 L914.25,261.52 L915.59,261.74 L916.92,261.95 L918.26,262.17 L919.59,262.39 L920.93,262.60 L922.27,262.82 L923.60,263.03 L924.94,263.25 L926.27,263.46 L927.61,263.67 L928.94,263.88 L930.28,264.10 L931.61,264.31 L932.95,264.52 L934.29,264.73 L935.62,264.93 L936.96,265.14 L938.29,265.35 L939.63,265.56 L940.96,265.76 L942.30,265.97 L943.63,266.17 L944.97,266.38 L946.30,266.58 L947.64,266.78 L948.98,266.98 L950.31,267.19 L951.65,267.39 L952.98,267.59 L954.32,267.79 L955.65,267.99 L956.99,268.18 L958.32,268.38 L959.66,268.58 L960.99,268.78 L962.33,268.97 L963.67,269.17 L965.00,269.36 L966.34,269.56 L967.67,269.75 L969.01,269.94 L970.34,270.14 L971.68,270.33 L973.01,270.52 L974.35,270.71" stroke="#1b6fdd"/>
<path d="M306.60,387.35 L307.27,387.33 L307.94,387.29 L308.60,387.21 L309.27,387.11 L309.94,386.97 L310.61,386.81 L311.27,386.61 L311.94,386.39 L312.61,386.14 L313.28,385.87 L313.95,385.56 L314.61,385.24 L315.28,384.88 L315.95,384.50 L316.62,384.09 L317.28,383.66 L317.95,383.21 L318.62,382.73 L319.29,382.23 L319.96,381.70 L320.62,381.16 L321.29,380.59 L321.96,379.99 L322.63,379.38 L323.29,378.74 L323.96,378.09 L324.63,377.41 L325.30,376.71 L325.96,376.00 L326.63,375.26 L327.30,374.51 L327.97,373.73 L328.64,372.94 L329.30,372.13 L329.97,371.30 L330.64,370.45 L331.31,369.59 L331.97,368.71 L332.64,367.81 L333.31,366.90 L333.98,365.97 L334.65,365.03 L335.31,364.07 L335.98,363.10 L336.65,362.11 L337.32,361.11 L337.98,360.09 L338.65,359.06 L339.32,358.02 L339.99,356.96 L340.66,355.89 L341.32,354.81 L341.99,353.71 L342.66,352.61 L343.33,351.49 L343.99,350.36 L344.66,349.22 L345.33,348.07 L346.00,346.91 L346.66,345.74 L347.33,344.55 L348.00,343.36 L348.67,342.16 L349.34,340.95 L350.00,339.73 L350.67,338.50 L351.34,337.27 L352.01,336.02 L352.67,334.77 L353.34,333.51 L354.01,332.24 L354.68,330.97 L355.35,329.68 L356.01,328.40 L356.68,327.10 L357.35,325.80 L358.02,324.49 L358.68,323.18 L359.35,321.86 L360.02,320.54 L360.69,319.21 L361.36,317.87 L362.02,316.53 L362.69,315.19 L363.36,313.84 L364.03,312.49 L364.69,311.13 L365.36,309.77 L366.03,308.41 L366.70,307.04 L367.37,305.67 L368.03,304.30 L368.70,302.92 L369.37,301.55 L370.04,300.16 L370.70,298.78 L371.37,297.40 L372.04,296.01 L372.71,294.62 L373.38,293.23 L374.04,291.84 L374.71,290.45 L375.38,289.06 L376.05,287.66 L376.71,286.27 L377.38,284.88 L378.05,283.48 L378.72,282.08 L379.38,280.69 L380.05,279.29 L380.72,277.90 L381.39,276.51 L382.06,275.11 L382.72,273.72 L383.39,272.33 L384.06,270.94 L384.73,269.55 L385.39,268.16 L386.06,266.77 L386.73,265.38 L387.40,264.00 L388.07,262.62 L388.73,261.24 L389.40,259.86 L390.07,258.48 L390.74,257.11 L391.40,255.74 L392.07,254.37 L392.74,253.01 L393.41,251.64 L394.08,250.28 L394.74,248.93 L395.41,247.57 L396.08,246.22 L396.75,244.87 L397.41,243.53 L398.08,242.19 L398.75,240.85 L399.42,239.52 L400.08,238.19 L400.75,236.86 L401.42,235.54 L402.09,234.22 L402.76,232.91 L403.42,231.60 L404.09,230.29 L404.76,228.99 L405.43,227.70 L406.09,226.41 L406.76,225.12 L407.43,223.84 L408.10,222.56 L408.77,221.28 L409.43,220.02 L410.10,218.75 L410.77,217.50 L411.44,216.24 L412.10,215.00 L412.77,213.75 L413.44,212.52 L414.11,211.28 L414.78,210.06 L415.44,208.84 L416.11,207.62 L416.78,206.41 L417.45,205.21 L418.11,204.01 L418.78,202.81 L419.45,201.63 L420.12,200.44 L420.79,199.27 L421.45,198.10 L422.12,196.93 L422.79,195.78 L423.46,194.62 L424.12,193.48 L424.79,192.34 L425.46,191.20 L426.13,190.08 L426.79,188.95 L427.46,187.84 L428.13,186.73 L428.80,185.63 L429.47,184.53 L430.13,183.44 L430.80,182.36 L431.47,181.28 L432.14,180.21 L432.80,179.14 L433.47,178.08 L434.14,177.03 L434.81,175.99 L435.48,174.95 L436.14,173.91 L436.81,172.89 L437.48,171.87 L438.15,170.85 L438.81,169.85 L439.48,168.85 L440.15,167.85 L440.82,166.87 L441.49,165.89 L442.15,164.91 L442.82,163.94 L443.49,162.98 L444.16,162.03 L444.82,161.08 L445.49,160.14 L446.16,159.21 L446.83,158.28 L447.50,157.36 L448.16,156.44 L448.83,155.54 L449.50,154.64 L450.17,153.74 L450.83,152.85 L451.50,151.97 L452.17,151.10 L452.84,150.23 L453.50,149.37 L454.17,148.51 L454.84,147.66 L455.51,146.82 L456.18,145.99 L456.84,145.16 L457.51,144.34 L458.18,143.52 L458.85,142.71 L459.51,141.91 L460.18,141.11 L460.85,140.32 L461.52,139.54 L462.19,138.76 L462.85,137.99 L463.52,137.23 L464.19,136.47 L464.86,135.72 L465.52,134.98 L466.19,134.24 L466.86,133.51 L467.53,132.78 L468.20,132.07 L468.86,131.35 L469.53,130.65 L470.20,129.95 L470.87,129.25 L471.53,128.57 L472.20,127.89 L472.87,127.21 L473.54,126.54 L474.21,125.88 L474.87,125.22 L475.54,124.57 L476.21,123.93 L476.88,123.29 L477.54,122.66 L478.21,122.03 L478.88,121.41 L479.55,120.80 L480.21,120.19 L480.88,119.59 L481.55,118.99 L482.22,118.40 L482.89,117.82 L483.55,117.24 L484.22,116.67 L484.89,116.10 L485.56,115.54 L486.22,114.99 L486.89,114.44 L487.56,113.90 L488.23,113.36 L488.90,112.83 L489.56,112.30 L490.23,111.78 L490.90,111.26 L491.57,110.75 L492.23,110.25 L492.90,109.75 L493.57,109.26 L494.24,108.77 L494.91,108.29 L495.57,107.81 L496.24,107.34 L496.91,106.87 L497.58,106.41 L498.24,105.96 L498.91,105.51 L499.58,105.06 L500.25,104.62 L500.92,104.19 L501.58,103.76 L502.25,103.34 L502.92,102.92 L503.59,102.50 L504.25,102.10 L504.92,101.69 L505.59,101.29 L506.26,100.90 L506.93,100.51 L507.59,100.13 L508.26,99.75 L508.93,99.37 L509.60,99.01 L510.26,98.64 L510.93,98.28 L511.60,97.93 L512.27,97.58 L512.93,97.23 L513.60,96.89 L514.27,96.56 L514.94,96.22 L515.61,95.90 L516.27,95.57 L516.94,95.26 L517.61,94.94 L518.28,94.64 L518.94,94.33 L519.61,94.03 L520.28,93.74 L520.95,93.45 L521.62,93.16 L522.28,92.88 L522.95,92.60 L523.62,92.33 L524.29,92.06 L524.95,91.79 L525.62,91.53 L526.29,91.27 L526.96,91.02 L527.63,90.77 L528.29,90.53 L528.96,90.29 L529.63,90.05 L530.30,89.82 L530.96,89.59 L531.63,89.36 L532.30,89.14 L532.97,88.93 L533.63,88.71 L534.30,88.51 L534.97,88.30 L535.64,88.10 L536.31,87.90 L536.97,87.71 L537.64,87.52 L538.31,87.33 L538.98,87.15 L539.64,86.97 L540.31,86.79 L540.98,86.62 L541.65,86.45 L542.32,86.29 L542.98,86.13 L543.65,85.97 L544.32,85.81 L544.99,85.66 L545.65,85.52 L546.32,85.37 L546.99,85.23 L547.66,85.09 L548.33,84.96 L548.99,84.83 L549.66,84.70 L550.33,84.58 L551.00,84.45 L551.66,84.34 L552.33,84.22 L553.00,84.11 L553.67,84.00 L554.34,83.90 L555.00,83.79 L555.67,83.69 L556.34,83.60 L557.01,83.51 L557.67,83.41 L558.34,83.33 L559.01,83.24 L559.68,83.16 L560.35,83.08 L561.01,83.01 L561.68,82.93 L562.35,82.86 L563.02,82.80 L563.68,82.73 L564.35,82.67 L565.02,82.61 L565.69,82.56 L566.35,82.50 L567.02,82.45 L567.69,82.40 L568.36,82.36 L569.03,82.32 L569.69,82.28 L570.36,82.24 L571.03,82.20 L571.70,82.17 L572.36,82.14 L573.03,82.11 L573.70,82.09 L575.04,82.04 L576.37,82.01 L577.71,81.99 L579.04,81.97 L580.38,81.97 L581.71,81.97 L583.05,81.98 L584.38,82.00 L585.72,82.03 L587.06,82.07 L588.39,82.12 L589.73,82.17 L591.06,82.24 L592.40,82.31 L593.73,82.39 L595.07,82.47 L596.40,82.57 L597.74,82.67 L599.07,82.78 L600.41,82.89 L601.75,83.01 L603.08,83.14 L604.42,83.28 L605.75,83.42 L607.09,83.57 L608.42,83.72 L609.76,83.89 L611.09,84.05 L612.43,84.23 L613.76,84.41 L615.10,84.59 L616.44,84.78 L617.77,84.98 L619.11,85.18 L620.44,85.39 L621.78,85.60 L623.11,85.82 L624.45,86.04 L625.78,86.27 L627.12,86.51 L628.46,86.74 L629.79,86.99 L631.13,87.23 L632.46,87.49 L633.80,87.74 L635.13,88.00 L636.47,88.27 L637.80,88.53 L639.14,88.81 L640.48,89.08 L641.81,89.37 L643.15,89.65 L644.48,89.94 L645.82,90.23 L647.15,90.53 L648.49,90.82 L649.82,91.13 L651.16,91.43 L652.49,91.74 L653.83,92.05 L655.17,92.37 L656.50,92.69 L657.84,93.01 L659.17,93.34 L660.51,93.66 L661.84,93.99 L663.18,94.33 L664.51,94.66 L665.85,95.00 L667.18,95.34 L668.52,95.68 L669.86,96.03 L671.19,96.38 L672.53,96.73 L673.86,97.08 L675.20,97.44 L676.53,97.79 L677.87,98.15 L679.20,98.52 L680.54,98.88 L681.88,99.24 L683.21,99.61 L684.55,99.98 L685.88,100.35 L687.22,100.72 L688.55,101.10 L689.89,101.47 L691.22,101.85 L692.56,102.23 L693.89,102.61 L695.23,102.99 L696.57,103.38 L697.90,103.76 L699.24,104.15 L700.57,104.53 L701.91,104.92 L703.24,105.31 L704.58,105.70 L705.91,106.10 L707.25,106.49 L708.59,106.88 L709.92,107.28 L711.26,107.68 L712.59,108.07 L713.93,108.47 L715.26,108.87 L716.60,109.27 L717.93,109.67 L719.27,110.07 L720.61,110.48 L721.94,110.88 L723.28,111.28 L724.61,111.69 L725.95,112.09 L727.28,112.50 L728.62,112.91 L729.95,113.31 L731.29,113.72 L732.62,114.13 L733.96,114.54 L735.30,114.95 L736.63,115.36 L737.97,115.76 L739.30,116.17 L740.64,116.59 L741.97,117.00 L743.31,117.41 L744.64,117.82 L745.98,118.23 L747.32,118.64 L748.65,119.05 L749.99,119.47 L751.32,119.88 L752.66,120.29 L753.99,120.70 L755.33,121.11 L756.66,121.53 L758.00,121.94 L759.33,122.35 L760.67,122.77 L762.01,123.18 L763.34,123.59 L764.68,124.00 L766.01,124.42 L767.35,124.83 L768.68,125.24 L770.02,125.65 L771.35,126.07 L772.69,126.48 L774.03,126.89 L775.36,127.30 L776.70,127.71 L778.03,128.12 L779.37,128.54 L780.70,128.95 L782.04,129.36 L783.37,129.77 L784.71,130.18 L786.04,130.59 L787.38,131.00 L788.72,131.41 L790.05,131.82 L791.39,132.22 L792.72,132.63 L794.06,133.04 L795.39,133.45 L796.73,133.86 L798.06,134.26 L799.40,134.67 L800.73,135.07 L802.07,135.48 L803.41,135.89 L804.74,136.29 L806.08,136.69 L807.41,137.10 L808.75,137.50 L810.08,137.90 L811.42,138.31 L812.75,138.71 L814.09,139.11 L815.43,139.51 L816.76,139.91 L818.10,140.31 L819.43,140.71 L820.77,141.11 L822.10,141.51 L823.44,141.90 L824.77,142.30 L826.11,142.70 L827.44,143.09 L828.78,143.49 L830.12,143.88 L831.45,144.28 L832.79,144.67 L834.12,145.06 L835.46,145.46 L836.79,145.85 L838.13,146.24 L839.46,146.63 L840.80,147.02 L842.14,147.41 L843.47,147.80 L844.81,148.18 L846.14,148.57 L847.48,148.96 L848.81,149.34 L850.15,149.73 L851.48,150.11 L852.82,150.50 L854.15,150.88 L855.49,151.26 L856.83,151.64 L858.16,152.02 L859.50,152.40 L860.83,152.78 L862.17,153.16 L863.50,153.54 L864.84,153.92 L866.17,154.29 L867.51,154.67 L868.85,155.05 L870.18,155.42 L871.52,155.79 L872.85,156.17 L874.19,156.54 L875.52,156.91 L876.86,157.28 L878.19,157.65 L879.53,158.02 L880.87,158.39 L882.20,158.76 L883.54,159.12 L884.87,159.49 L886.21,159.86 L887.54,160.22 L888.88,160.58 L890.21,160.95 L891.55,161.31 L892.88,161.67 L894.22,162.03 L895.56,162.39 L896.89,162.75 L898.23,163.11 L899.56,163.47 L900.90,163.83 L902.23,164.18 L903.57,164.54 L904.90,164.89 L906.24,165.25 L907.58,165.60 L908.91,165.95 L910.25,166.30 L911.58,166.66 L912.92,167.01 L914.25,167.35 L915.59,167.70 L916.92,168.05 L918.26,168.40 L919.59,168.74 L920.93,169.09 L922.27,169.43 L923.60,169.78 L924.94,170.12 L926.27,170.46 L927.61,170.80 L928.94,171.15 L930.28,171.48 L931.61,171.82 L932.95,172.16 L934.29,172.50 L935.62,172.84 L936.96,173.17 L938.29,173.51 L939.63,173.84 L940.96,174.18 L942.30,174.51 L943.63,174.84 L944.97,175.17 L946.30,175.50 L947.64,175.83 L948.98,176.16 L950.31,176.49 L951.65,176.82 L952.98,177.14 L954.32,177.47 L955.65,177.79 L956.99,178.12 L958.32,178.44 L959.66,178.76 L960.99,179.09 L962.33,179.41 L963.67,179.73 L965.00,180.05 L966.34,180.37 L967.67,180.68 L969.01,181.00 L970.34,181.32 L971.68,181.63 L973.01,181.95 L974.35,182.26" stroke="#39ab6b"/>
</g>
<g fill="#000" stroke="#000" stroke-width="0.45">
<g transform="translate(173.05,425.10)" font-size="32"><text transform="translate(-8.90,0.00) scale(1.0,1.03)" xml:space="preserve">0</text></g><g transform="translate(306.60,425.10)" font-size="32"><text transform="translate(-17.80,0.00) scale(1.0,1.03)" xml:space="preserve">20</text></g><g transform="translate(440.15,425.10)" font-size="32"><text transform="translate(-17.80,0.00) scale(1.0,1.03)" xml:space="preserve">40</text></g><g transform="translate(573.70,425.10)" font-size="32"><text transform="translate(-17.80,0.00) scale(1.0,1.03)" xml:space="preserve">60</text></g><g transform="translate(707.25,425.10)" font-size="32"><text transform="translate(-17.80,0.00) scale(1.0,1.03)" xml:space="preserve">80</text></g><g transform="translate(840.80,425.10)" font-size="32"><path transform="translate(-26.70,0.00) scale(0.03200,-0.03296)" d="M262,0 L350,0 L350,692 L277,692 C263,634 231,597 176,584 C146,576 120,572 95,571 L95,495 L262,495 Z" vector-effect="non-scaling-stroke"/><text transform="translate(-8.90,0.00) scale(1.0,1.03)" xml:space="preserve">00</text></g><g transform="translate(974.35,425.10)" font-size="32"><path transform="translate(-26.70,0.00) scale(0.03200,-0.03296)" d="M262,0 L350,0 L350,692 L277,692 C263,634 231,597 176,584 C146,576 120,572 95,571 L95,495 L262,495 Z" vector-effect="non-scaling-stroke"/><text transform="translate(-8.90,0.00) scale(1.0,1.03)" xml:space="preserve">20</text></g>
<g transform="translate(162.70,397.75)" font-size="32"><text transform="translate(-44.48,0.00) scale(1.0,1.03)" xml:space="preserve">0.0</text></g><g transform="translate(162.70,272.82)" font-size="32"><text transform="translate(-44.48,0.00) scale(1.0,1.03)" xml:space="preserve">0.</text><path transform="translate(-17.80,0.00) scale(0.03200,-0.03296)" d="M262,0 L350,0 L350,692 L277,692 C263,634 231,597 176,584 C146,576 120,572 95,571 L95,495 L262,495 Z" vector-effect="non-scaling-stroke"/></g><g transform="translate(162.70,147.88)" font-size="32"><text transform="translate(-44.48,0.00) scale(1.0,1.03)" xml:space="preserve">0.2</text></g><g transform="translate(162.70,22.95)" font-size="32"><text transform="translate(-44.48,0.00) scale(1.0,1.03)" xml:space="preserve">0.3</text></g>
<rect x="190" y="32" width="152" height="38.7" fill="#fff" stroke="none"/><g transform="translate(194.10,63.40)" font-size="32"><text x="0.00" y="0.00" font-style="italic" xml:space="preserve">w</text></g><path d="M225.3,59.6 L241.3,59.6 L241.95,57.0 L225.95,57.0 Z M227.0,52.8 L243.0,52.8 L243.65,50.2 L227.65,50.2 Z" fill="#000"/><g transform="translate(249.90,63.40)" font-size="32"><text transform="translate(0.00,0.00) scale(1.0,1.03)" xml:space="preserve">20</text><text x="35.59" y="0.00" xml:space="preserve"> nm</text></g><rect x="634" y="66" width="146" height="39" fill="#fff" stroke="none"/><g transform="translate(636.70,97.70)" font-size="32"><text transform="translate(0.00,0.00) scale(1.0,1.045)" font-style="italic" xml:space="preserve">L</text></g><path d="M662.5,85.0H678.8V87.6H662.5Z M662.5,91.6H678.8V94.2H662.5Z" fill="#000"/><g transform="translate(687.50,97.70)" font-size="32"><text transform="translate(0.00,0.00) scale(1.0,1.03)" xml:space="preserve">20</text><text x="35.59" y="0.00" xml:space="preserve"> nm</text></g><g transform="translate(606.00,172.20)" font-size="32"><path transform="translate(0.00,0.00) scale(0.03200,-0.03296)" d="M262,0 L350,0 L350,692 L277,692 C263,634 231,597 176,584 C146,576 120,572 95,571 L95,495 L262,495 Z" vector-effect="non-scaling-stroke"/><text transform="translate(17.80,0.00) scale(1.0,1.03)" xml:space="preserve">5</text><text x="35.59" y="0.00" xml:space="preserve"> nm</text></g><g transform="translate(542.00,255.40)" font-size="32"><path transform="translate(0.00,0.00) scale(0.03200,-0.03296)" d="M262,0 L350,0 L350,692 L277,692 C263,634 231,597 176,584 C146,576 120,572 95,571 L95,495 L262,495 Z" vector-effect="non-scaling-stroke"/><text transform="translate(17.80,0.00) scale(1.0,1.03)" xml:space="preserve">0</text><text x="35.59" y="0.00" xml:space="preserve"> nm</text></g><g transform="translate(486.00,332.20)" font-size="32"><text transform="translate(0.00,0.00) scale(1.0,1.03)" xml:space="preserve">5</text><text x="17.80" y="0.00" xml:space="preserve"> nm</text></g>
<g transform="translate(386.50,483.80)" font-size="38.8"><text transform="translate(0.00,0.00) scale(1.0,1.045)" xml:space="preserve">MO</text><text x="62.50" y="0.00" xml:space="preserve">x thickness </text><text x="266.70" y="0.00" font-style="italic" xml:space="preserve">d</text><text x="286.78" y="0.00" xml:space="preserve"> [nm]</text></g>
<g transform="translate(27.70,199.70) rotate(-90)" font-size="38.8"><text transform="translate(-161.76,0.00) scale(1.0,1.045)" xml:space="preserve">H</text><text x="-133.74" y="0.00" xml:space="preserve">ole concentration</text></g>
<g transform="translate(81.20,204.00) rotate(-90)" font-size="38.8"><text x="-177.67" y="0.00" font-style="italic" xml:space="preserve">p(d) / [(</text><text transform="translate(-52.63,0.00) scale(1.0,1.045)" font-style="italic" xml:space="preserve">I</text><text transform="translate(-41.85,11.00) scale(1.0,1.03)" font-style="italic" font-size="26.5" xml:space="preserve">0</text><text transform="translate(-27.11,0.00) scale(1.0,1.045)" font-style="italic" xml:space="preserve"> A</text><text x="9.55" y="0.00" font-style="italic" xml:space="preserve">)/(h</text><text transform="translate(73.60,0.00) scale(0.86,0.83)" font-style="italic" xml:space="preserve">ν</text><text x="87.15" y="0.00" font-style="italic" xml:space="preserve"> w</text><text transform="translate(125.95,0.00) scale(1.0,1.045)" font-style="italic" xml:space="preserve">D</text><text x="153.97" y="0.00" font-style="italic" xml:space="preserve">)]</text></g>
</g>
</svg>
</body></html>
